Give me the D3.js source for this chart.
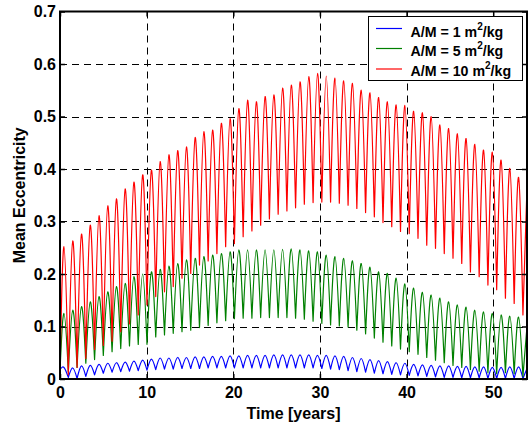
<!DOCTYPE html>
<html>
<head>
<meta charset="utf-8">
<script src="https://cdn.jsdelivr.net/npm/d3@7"></script>
<style>
  html, body { margin: 0; padding: 0; background: #fff; }
  svg { display: block; font-family: "Liberation Sans", Arial, sans-serif; font-weight: bold; }
</style>
</head>
<body>
<svg id="chart" width="529" height="427"></svg>
<script>
// Time of each yearly maximum and minimum of the eccentricity [years]
const startYear = 0;
const endYear = 53.9;
const peakYears = [0.46, 1.47, 2.48, 3.49, 4.50, 5.51, 6.51, 7.52, 8.53, 9.54,
  10.55, 11.56, 12.57, 13.58, 14.59, 15.60, 16.60, 17.61, 18.62, 19.63,
  20.64, 21.65, 22.66, 23.67, 24.68, 25.69, 26.69, 27.70, 28.71, 29.72,
  30.73, 31.74, 32.75, 33.76, 34.77, 35.78, 36.78, 37.79, 38.80, 39.81,
  40.82, 41.83, 42.84, 43.85, 44.86, 45.87, 46.87, 47.88, 48.89, 49.90,
  50.91, 51.92, 52.93];
const troughYears = [0.96, 1.97, 2.98, 3.99, 5.00, 6.01, 7.01, 8.02, 9.03, 10.04,
  11.05, 12.06, 13.07, 14.08, 15.09, 16.10, 17.10, 18.11, 19.12, 20.13,
  21.14, 22.15, 23.16, 24.17, 25.18, 26.19, 27.19, 28.20, 29.21, 30.22,
  31.23, 32.24, 33.25, 34.26, 35.27, 36.28, 37.28, 38.29, 39.30, 40.31,
  41.32, 42.33, 43.34, 44.35, 45.36, 46.37, 47.37, 48.38, 49.39, 50.40,
  51.41, 52.42, 53.43];

// A/M = 1 m^2/kg
const blueEnds = [0.018, 0.020];
const bluePeaks = [0.022, 0.021, 0.025, 0.026, 0.028, 0.030, 0.031, 0.032, 0.034, 0.036,
  0.038, 0.040, 0.040, 0.041, 0.041, 0.042, 0.042, 0.043, 0.043, 0.044,
  0.044, 0.045, 0.045, 0.045, 0.046, 0.046, 0.046, 0.046, 0.046, 0.045,
  0.045, 0.044, 0.043, 0.041, 0.039, 0.037, 0.035, 0.033, 0.031, 0.030,
  0.028, 0.027, 0.026, 0.025, 0.025, 0.024, 0.024, 0.023, 0.023, 0.022,
  0.022, 0.023, 0.023];
const blueTroughs = [0.003, 0.001, 0.005, 0.008, 0.011, 0.013, 0.014, 0.015, 0.016, 0.017,
  0.018, 0.019, 0.019, 0.020, 0.020, 0.020, 0.021, 0.021, 0.021, 0.021,
  0.021, 0.021, 0.021, 0.021, 0.021, 0.021, 0.021, 0.021, 0.021, 0.020,
  0.019, 0.018, 0.016, 0.014, 0.013, 0.011, 0.010, 0.009, 0.008, 0.007,
  0.006, 0.005, 0.004, 0.003, 0.003, 0.002, 0.002, 0.002, 0.001, 0.001,
  0.001, 0.001, 0.001];

// A/M = 5 m^2/kg
const greenEnds = [0.015, 0.100];
const greenPeaks = [0.125, 0.131, 0.138, 0.147, 0.157, 0.166, 0.176, 0.182, 0.195, 0.200,
  0.204, 0.209, 0.215, 0.220, 0.227, 0.230, 0.233, 0.236, 0.239, 0.242,
  0.246, 0.246, 0.246, 0.246, 0.246, 0.247, 0.248, 0.246, 0.244, 0.242,
  0.236, 0.233, 0.230, 0.225, 0.220, 0.213, 0.204, 0.201, 0.192, 0.181,
  0.173, 0.165, 0.160, 0.154, 0.147, 0.141, 0.137, 0.131, 0.128, 0.125,
  0.122, 0.120, 0.118];
const greenTroughs = [0.014, 0.022, 0.030, 0.037, 0.045, 0.052, 0.058, 0.063, 0.066, 0.066,
  0.080, 0.084, 0.087, 0.090, 0.093, 0.098, 0.102, 0.107, 0.111, 0.115,
  0.116, 0.116, 0.117, 0.117, 0.117, 0.117, 0.116, 0.114, 0.110, 0.106,
  0.103, 0.101, 0.099, 0.093, 0.086, 0.078, 0.070, 0.063, 0.057, 0.052,
  0.047, 0.041, 0.036, 0.031, 0.026, 0.022, 0.018, 0.015, 0.012, 0.010,
  0.012, 0.010, 0.005];

// A/M = 10 m^2/kg
const redEnds = [0.012, 0.366];
const redPeaks = [0.252, 0.263, 0.276, 0.293, 0.311, 0.330, 0.343, 0.362, 0.375, 0.389,
  0.398, 0.414, 0.427, 0.435, 0.442, 0.460, 0.471, 0.474, 0.487, 0.496,
  0.515, 0.531, 0.528, 0.538, 0.541, 0.554, 0.560, 0.566, 0.576, 0.582,
  0.577, 0.573, 0.568, 0.563, 0.550, 0.545, 0.536, 0.528, 0.522, 0.521,
  0.510, 0.507, 0.500, 0.484, 0.477, 0.467, 0.458, 0.447, 0.436, 0.432,
  0.417, 0.401, 0.384];
const redTroughs = [0.008, 0.022, 0.039, 0.056, 0.064, 0.072, 0.090, 0.105, 0.122, 0.141,
  0.157, 0.166, 0.176, 0.192, 0.201, 0.217, 0.225, 0.239, 0.252, 0.258,
  0.271, 0.282, 0.293, 0.305, 0.314, 0.320, 0.326, 0.333, 0.336, 0.337,
  0.337, 0.335, 0.331, 0.325, 0.317, 0.309, 0.298, 0.290, 0.281, 0.277,
  0.268, 0.255, 0.249, 0.239, 0.230, 0.220, 0.204, 0.195, 0.179, 0.170,
  0.154, 0.144, 0.122];

const xTicks = [0, 10, 20, 30, 40, 50];
const yTicks = [0, 0.1, 0.2, 0.3, 0.4, 0.5, 0.6, 0.7];
const legendLabels = ["A/M = 1 m", "A/M = 5 m", "A/M = 10 m"];
const seriesColors = ["#0000ff", "#008000", "#ff0000"];

const svg = d3.select("#chart");
const plotLeft = 60, plotRight = 527, plotTop = 11.5, plotBottom = 379;

const x = d3.scaleLinear().domain([startYear, endYear]).range([plotLeft, plotRight]);
const y = d3.scaleLinear().domain([0, 0.7]).range([plotBottom, plotTop]);

// dashed grid
const grid = svg.append("g").attr("stroke", "#000").attr("stroke-width", 1)
  .attr("stroke-dasharray", "7,5").attr("fill", "none");
xTicks.filter(t => t > 0).forEach(t => {
  grid.append("line").attr("x1", Math.round(x(t)) + 0.5).attr("x2", Math.round(x(t)) + 0.5)
    .attr("y1", y(0.7)).attr("y2", y(0));
});
yTicks.filter(t => t > 0 && t < 0.7).forEach(t => {
  grid.append("line").attr("y1", Math.round(y(t)) + 0.5).attr("y2", Math.round(y(t)) + 0.5)
    .attr("x1", x(0)).attr("x2", x(endYear));
});

// each yearly cycle is drawn as an arch from minimum through maximum to minimum
const arch = d3.line().x(d => x(d[0])).y(d => y(d[1])).curve(d3.curveNatural);
function archPath(peaks, troughs, ends) {
  const segs = [];
  let prev = [startYear, ends[0]];
  peaks.forEach((p, i) => {
    const tr = [troughYears[i], troughs[i]];
    segs.push([prev, [peakYears[i], p], tr]);
    prev = tr;
  });
  segs.push([prev, [endYear, ends[1]]]);
  return segs.map(s => arch(s)).join("");
}

svg.append("clipPath").attr("id", "plotclip").append("rect")
  .attr("x", plotLeft).attr("y", plotTop).attr("width", plotRight - plotLeft).attr("height", plotBottom - plotTop);

const lines = svg.append("g").attr("clip-path", "url(#plotclip)")
  .attr("fill", "none").attr("stroke-width", 1.2)
  .attr("stroke-linejoin", "round").attr("stroke-linecap", "round");
lines.append("path").attr("stroke", seriesColors[0]).attr("d", archPath(bluePeaks, blueTroughs, blueEnds));
lines.append("path").attr("stroke", seriesColors[1]).attr("d", archPath(greenPeaks, greenTroughs, greenEnds));
lines.append("path").attr("stroke", seriesColors[2]).attr("d", archPath(redPeaks, redTroughs, redEnds));

// axes with inward ticks on all four sides
const fmtY = d => d === 0 ? "0" : d3.format(".1f")(d);
function styleAxis(g) {
  g.select(".domain").remove();
  g.selectAll(".tick line").attr("stroke", "#000").attr("stroke-width", 1.5);
  g.selectAll("text").attr("fill", "#000").attr("font-size", 16).attr("font-weight", "bold")
    .attr("font-family", "'Liberation Sans', Arial, sans-serif");
}
svg.append("g").attr("transform", `translate(0,${plotBottom})`)
  .call(d3.axisBottom(x).tickValues(xTicks).tickSize(-5).tickPadding(8).tickFormat(d3.format("d")))
  .call(styleAxis);
svg.append("g").attr("transform", `translate(0,${plotTop})`)
  .call(d3.axisTop(x).tickValues(xTicks).tickSize(-5).tickFormat(""))
  .call(styleAxis);
svg.append("g").attr("transform", `translate(${plotLeft},0)`)
  .call(d3.axisLeft(y).tickValues(yTicks).tickSize(-5).tickPadding(4).tickFormat(fmtY))
  .call(styleAxis);
svg.append("g").attr("transform", `translate(${plotRight},0)`)
  .call(d3.axisRight(y).tickValues(yTicks).tickSize(-5).tickFormat(""))
  .call(styleAxis);

svg.append("rect").attr("x", plotLeft).attr("y", plotTop).attr("width", plotRight - plotLeft).attr("height", plotBottom - plotTop)
  .attr("fill", "none").attr("stroke", "#000").attr("stroke-width", 2);

// axis titles
svg.append("text").attr("x", (plotLeft + plotRight) / 2).attr("y", 419).attr("text-anchor", "middle")
  .attr("font-size", 16).text("Time [years]");
svg.append("text").attr("transform", `translate(25,${(plotTop + plotBottom) / 2}) rotate(-90)`)
  .attr("text-anchor", "middle").attr("font-size", 16).text("Mean Eccentricity");

// legend
const lg = svg.append("g");
lg.append("rect").attr("x", 368.5).attr("y", 16.5).attr("width", 154).attr("height", 64)
  .attr("fill", "#fff").attr("stroke", "#000").attr("stroke-width", 1);
const rowLine = [28.5, 48.5, 69];
const rowBase = [36.7, 56.3, 76];
legendLabels.forEach((lab, i) => {
  lg.append("line").attr("x1", 376).attr("x2", 402).attr("y1", rowLine[i]).attr("y2", rowLine[i])
    .attr("stroke", seriesColors[i]).attr("stroke-width", 1.2);
  const t = lg.append("text").attr("x", 410.5).attr("y", rowBase[i]).attr("font-size", 14.2);
  t.append("tspan").text(lab);
  t.append("tspan").attr("font-size", 10).attr("dy", -7).text("2");
  t.append("tspan").attr("dy", 7).text("/kg");
});
</script>
</body>
</html>
